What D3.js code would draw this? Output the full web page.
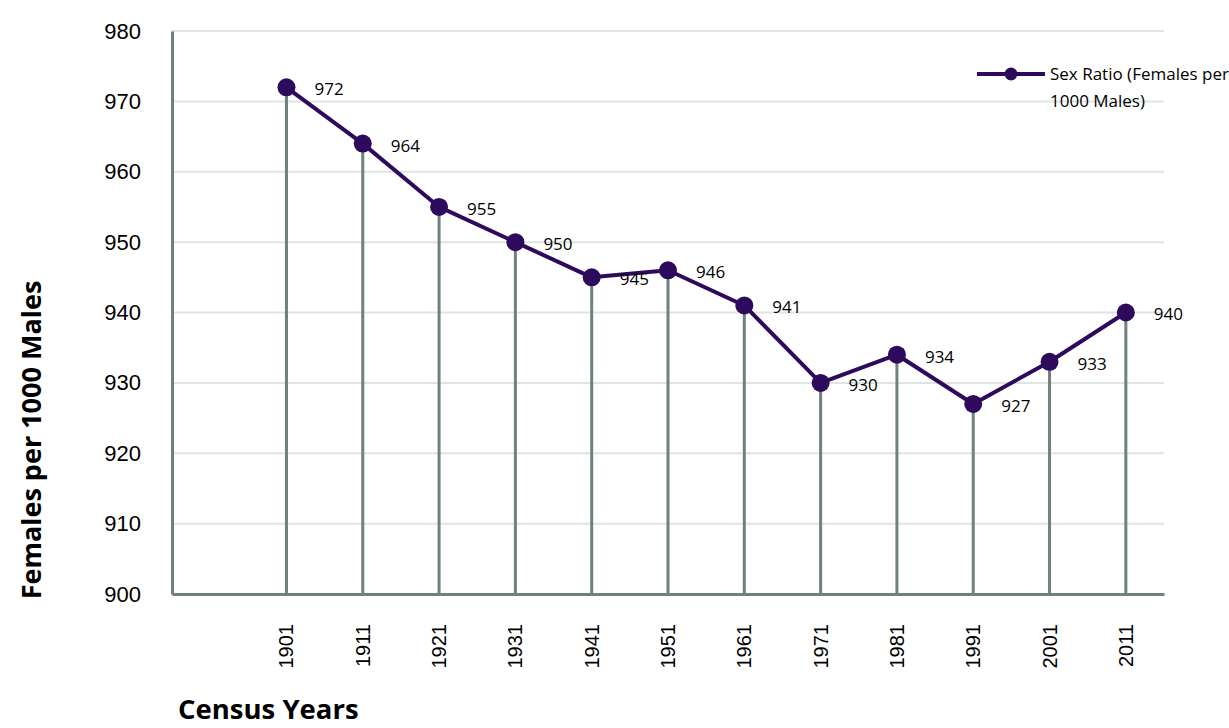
<!DOCTYPE html>
<html>
<head>
<meta charset="utf-8">
<script src="https://cdn.jsdelivr.net/npm/d3@7/dist/d3.min.js"></script>
<style>
  body { margin: 0; background: #fff; }
  svg { display: block; font-family: "Open Sans", sans-serif; }
</style>
</head>
<body>
<div id="chart"></div>
<script>
// census years (leading blank slot, as in the original sheet)
const categories = ["", "1901", "1911", "1921", "1931", "1941", "1951", "1961", "1971", "1981", "1991", "2001", "2011"];
const years = ["1901", "1911", "1921", "1931", "1941", "1951", "1961", "1971", "1981", "1991", "2001", "2011"];
const sexRatio = [972, 964, 955, 950, 945, 946, 941, 930, 934, 927, 933, 940];
const yTicks = [900, 910, 920, 930, 940, 950, 960, 970, 980];
const seriesName = ["Sex Ratio (Females per", "1000 Males)"];

const W = 1229, H = 728;
const margin = { top: 31, right: 65, bottom: 134, left: 172 };
const innerW = W - margin.left - margin.right;
const innerH = H - margin.top - margin.bottom;

const data = years.map((y, i) => ({ year: y, value: sexRatio[i] }));

const svg = d3.select('#chart').append('svg')
  .attr('width', W).attr('height', H);

const g = svg.append('g')
  .attr('transform', `translate(${margin.left},${margin.top})`);

const x = d3.scaleBand().domain(categories).range([0, innerW]);
const y = d3.scaleLinear().domain([900, 980]).range([innerH, 0]);
const cx = d => x(d) + x.bandwidth() / 2;

// horizontal gridlines
g.selectAll('.grid').data(yTicks.filter(t => t > 900)).enter()
  .append('line')
  .attr('x1', 0).attr('x2', innerW)
  .attr('y1', d => y(d)).attr('y2', d => y(d))
  .attr('stroke', '#dde5e3').attr('stroke-width', 2);

// y axis
const yAxis = g.append('g').call(d3.axisLeft(y).tickValues(yTicks).tickSize(0).tickPadding(31));
yAxis.select('.domain').attr('stroke', '#6e8080').attr('stroke-width', 3);
yAxis.selectAll('text').attr('font-size', 22).attr('fill', '#000');

// drop lines
g.selectAll('.drop').data(data).enter()
  .append('line')
  .attr('x1', d => cx(d.year)).attr('x2', d => cx(d.year))
  .attr('y1', d => y(d.value)).attr('y2', innerH)
  .attr('stroke', '#6e8080').attr('stroke-width', 3);

// x axis baseline + rotated year labels
const xAxis = g.append('g').attr('transform', `translate(0,${innerH})`)
  .call(d3.axisBottom(x).tickValues(years).tickSize(0));
xAxis.select('.domain').attr('stroke', '#6e8080').attr('stroke-width', 3);
xAxis.selectAll('.tick text')
  .attr('font-size', 20).attr('fill', '#000')
  .attr('text-anchor', 'end')
  .attr('dy', '0.35em')
  .attr('transform', 'rotate(-90)')
  .attr('x', -30).attr('y', 0);

// series line
const line = d3.line().x(d => cx(d.year)).y(d => y(d.value));
g.append('path').datum(data)
  .attr('d', line)
  .attr('fill', 'none')
  .attr('stroke', '#2e0a5c')
  .attr('stroke-width', 4)
  .attr('stroke-linejoin', 'round');

g.selectAll('.pt').data(data).enter()
  .append('circle')
  .attr('cx', d => cx(d.year)).attr('cy', d => y(d.value))
  .attr('r', 9)
  .attr('fill', '#2e0a5c');

// value labels
g.selectAll('.lbl').data(data).enter()
  .append('text')
  .attr('x', d => cx(d.year) + 28)
  .attr('y', d => y(d.value) + 2)
  .attr('dy', '0.35em')
  .attr('font-size', 17)
  .text(d => d.value);

// legend
const lg = svg.append('g').attr('transform', 'translate(977,74)');
lg.append('line').attr('x1', 0).attr('x2', 68).attr('y1', 0).attr('y2', 0)
  .attr('stroke', '#2e0a5c').attr('stroke-width', 4);
lg.append('circle').attr('cx', 34).attr('cy', 0).attr('r', 6.5).attr('fill', '#2e0a5c');
lg.selectAll('text').data(seriesName).enter()
  .append('text')
  .attr('x', 73).attr('y', (d, i) => i * 27)
  .attr('dy', '0.35em')
  .attr('font-size', 17)
  .text(d => d);

// axis titles
svg.append('text')
  .attr('transform', 'translate(41,440) rotate(-90)')
  .attr('text-anchor', 'middle')
  .attr('font-size', 27).attr('font-weight', 'bold')
  .text('Females per 1000 Males');

svg.append('text')
  .attr('x', 178).attr('y', 719)
  .attr('font-size', 27.5).attr('font-weight', 'bold')
  .text('Census Years');
</script>
</body>
</html>
